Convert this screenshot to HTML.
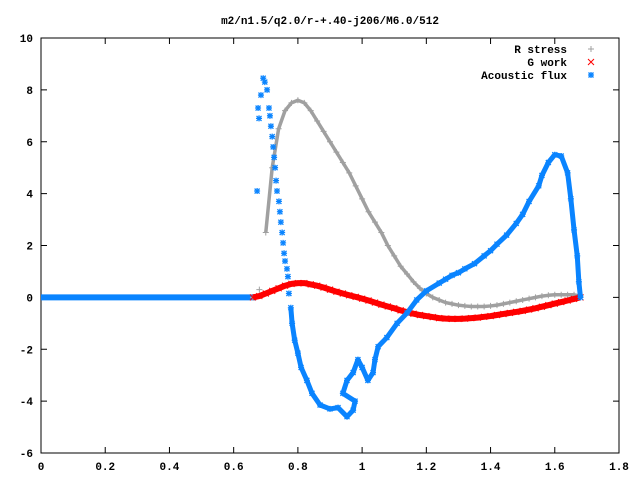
<!DOCTYPE html>
<html><head><meta charset="utf-8"><style>
body{margin:0;background:#fff}
svg text{font-family:"Liberation Mono",monospace;font-size:11px;font-weight:bold;fill:#000}
</style></head><body>
<svg width="640" height="480" id="c" xmlns="http://www.w3.org/2000/svg">
<text x="330" y="24" text-anchor="middle">m2/n1.5/q2.0/r-+.40-j206/M6.0/512</text>
</svg>
<script>
const xTicks=[0,0.2,0.4,0.6,0.8,1,1.2,1.4,1.6,1.8];
const xTickLabels=["0","0.2","0.4","0.6","0.8","1","1.2","1.4","1.6","1.8"];
const yTicks=[-6,-4,-2,0,2,4,6,8,10];
const yTickLabels=["-6","-4","-2","0","2","4","6","8","10"];
const rgX=[0.66,0.68,0.70,0.72,0.74,0.76,0.78,0.80,0.82,0.84,0.86,0.88,0.90,0.92,0.94,0.96,0.98,1.00,1.02,1.04,1.06,1.08,1.10,1.12,1.14,1.16,1.18,1.20,1.22,1.24,1.26,1.28,1.30,1.32,1.34,1.36,1.38,1.40,1.42,1.44,1.46,1.48,1.50,1.52,1.54,1.56,1.58,1.60,1.62,1.64,1.66,1.68];
const rStress=[0,0.3,2.5,5.0,6.5,7.2,7.5,7.6,7.5,7.2,6.8,6.4,6.0,5.6,5.2,4.8,4.3,3.8,3.3,2.9,2.5,2.0,1.6,1.2,0.9,0.6,0.35,0.15,0,-0.1,-0.2,-0.25,-0.3,-0.33,-0.35,-0.35,-0.35,-0.33,-0.3,-0.25,-0.2,-0.15,-0.1,-0.05,0,0.05,0.08,0.1,0.1,0.1,0.1,0.05];
const gWork=[0,0.05,0.15,0.25,0.35,0.45,0.52,0.55,0.55,0.5,0.45,0.38,0.3,0.22,0.15,0.08,0.02,-0.05,-0.12,-0.2,-0.28,-0.35,-0.42,-0.5,-0.57,-0.63,-0.68,-0.72,-0.76,-0.8,-0.82,-0.83,-0.83,-0.82,-0.8,-0.78,-0.75,-0.72,-0.68,-0.64,-0.6,-0.56,-0.52,-0.47,-0.42,-0.36,-0.3,-0.24,-0.18,-0.12,-0.06,0];
const afX=[0.673,0.676,0.679,0.685,0.692,0.697,0.704,0.71,0.713,0.716,0.72,0.723,0.726,0.729,0.732,0.735,0.741,0.744,0.747,0.751,0.754,0.757,0.76,0.766,0.769,0.772,0.778,0.782,0.79,0.80,0.81,0.828,0.844,0.869,0.90,0.925,0.953,0.972,0.978,0.94,0.953,0.972,0.987,1.0,1.018,1.034,1.04,1.05,1.077,1.109,1.14,1.17,1.20,1.24,1.26,1.28,1.3,1.32,1.35,1.38,1.4,1.42,1.45,1.48,1.5,1.52,1.55,1.56,1.58,1.6,1.62,1.64,1.65,1.66,1.67,1.675,1.68];
const afY=[4.1,7.3,6.9,7.8,8.45,8.3,8.0,7.3,7.0,6.6,6.2,5.8,5.4,5.0,4.5,4.1,3.7,3.3,2.9,2.5,2.1,1.7,1.4,1.1,0.8,0.15,-0.4,-1.0,-1.65,-2.15,-2.7,-3.2,-3.7,-4.15,-4.3,-4.25,-4.6,-4.35,-4.0,-3.7,-3.2,-2.9,-2.4,-2.7,-3.2,-2.9,-2.4,-1.9,-1.55,-1.0,-0.6,-0.1,0.25,0.55,0.7,0.85,0.95,1.1,1.3,1.6,1.8,2.05,2.4,2.85,3.2,3.7,4.3,4.7,5.2,5.5,5.45,4.8,3.8,2.6,1.6,0.6,0.0];
const L=41,R=619,T=38,B=453,x0=0,x1=1.8,y0=-6,y1=10;
const sx=v=>L+(v-x0)/(x1-x0)*(R-L);
const sy=v=>B-(v-y0)/(y1-y0)*(B-T);
const svg=document.getElementById('c');const NS='http://www.w3.org/2000/svg';
function mk(t,a,p){const e=document.createElementNS(NS,t);for(const k in a)e.setAttribute(k,a[k]);(p||svg).appendChild(e);return e;}
const ax=mk('g',{});


xTicks.forEach((v,i)=>{const x=sx(v);
mk('line',{x1:x,y1:B,x2:x,y2:B-6,stroke:'#000'},ax);mk('line',{x1:x,y1:T,x2:x,y2:T+6,stroke:'#000'},ax);
const t=mk('text',{x:x,y:B+17,'text-anchor':'middle'},ax);t.textContent=xTickLabels[i];

});
yTicks.forEach((v,i)=>{const y=sy(v);
mk('line',{x1:L,y1:y,x2:L+6,y2:y,stroke:'#000'},ax);mk('line',{x1:R,y1:y,x2:R-6,y2:y,stroke:'#000'},ax);
const t=mk('text',{x:L-8,y:y+4,'text-anchor':'end'},ax);t.textContent=yTickLabels[i];

});
const fr=mk('rect',{x:L,y:T,width:R-L,height:B-T,fill:'none',stroke:'#000'},ax);


function plus(g,x,y,c){mk('path',{d:`M${x-3} ${y}h6M${x} ${y-3}v6`,stroke:c,'stroke-width':1},g);}
function cross(g,x,y,c){mk('path',{d:`M${x-3} ${y-3}l6 6M${x-3} ${y+3}l6 -6`,stroke:c,'stroke-width':1},g);}
function star(g,x,y,c){mk('path',{d:`M${x-3} ${y}h6M${x} ${y-3}v6M${x-2.5} ${y-2.5}l5 5M${x-2.5} ${y+2.5}l5 -5`,stroke:c,'stroke-width':1.3},g);}
const z=mk('line',{x1:sx(0),y1:sy(0),x2:sx(0.67),y2:sy(0),stroke:'#0a84ff','stroke-width':6});


function series(name,xs,ys,c,f,line,from){const g=mk('g',{});


if(line)mk('polyline',{points:xs.map((v,i)=>sx(v)+','+sy(ys[i])).slice(from||0).join(' '),fill:'none',stroke:c,'stroke-width':line,'stroke-linejoin':'round'},g);
xs.forEach((v,i)=>f(g,sx(v),sy(ys[i]),c));}
series('r-stress-series',rgX,rStress,'#a0a0a0',plus,3.5,2);
series('g-work-series',rgX,gWork,'#ff0000',cross,6,0);
series('acoustic-flux-series',afX,afY,'#0a84ff',star,5,26);
const lg=mk('g',{});


[['R stress','#a0a0a0',plus],['G work','#ff0000',cross],['Acoustic flux','#0a84ff',star]].forEach((e,i)=>{const y=49+i*13;
const t=mk('text',{x:567,y:y+4,'text-anchor':'end'},lg);t.textContent=e[0];


e[2](lg,591,y,e[1]);});
</script>
</body></html>
